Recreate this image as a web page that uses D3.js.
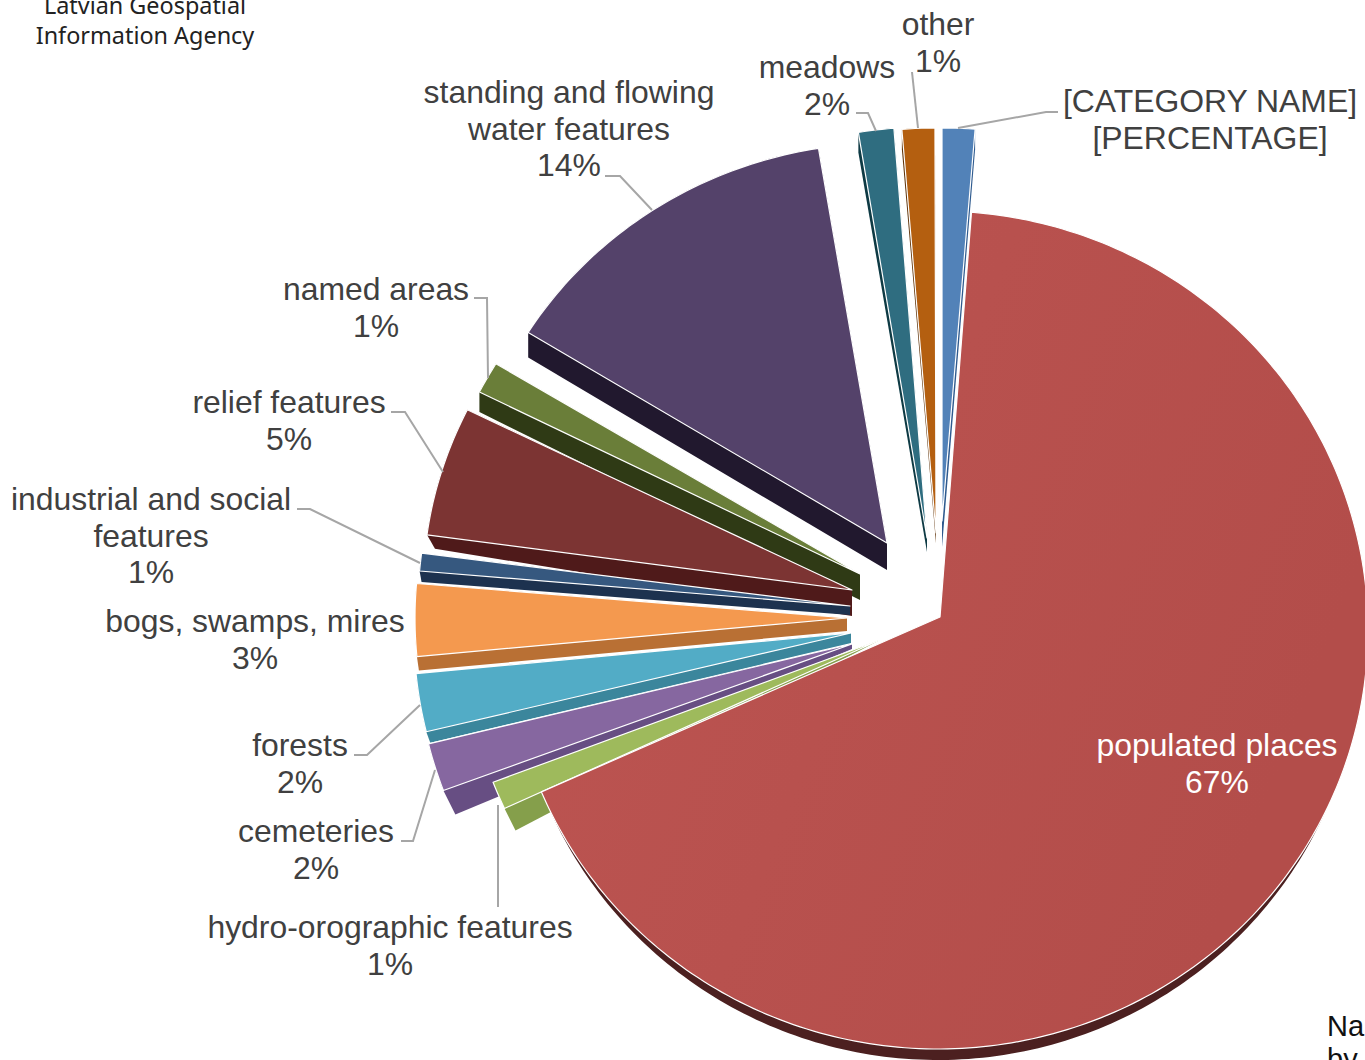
<!DOCTYPE html>
<html>
<head>
<meta charset="utf-8">
<script src="https://cdn.jsdelivr.net/npm/d3@7"></script>
<style>
  html, body { margin: 0; background: #fff; }
  svg { display: block; overflow: hidden; }
  .label text { font-family: "Liberation Sans", Arial, sans-serif; }
  .logo text { font-family: "Noto Sans", sans-serif; }
  .note text { font-family: "Liberation Sans", Arial, sans-serif; }
</style>
</head>
<body>
<div id="chart"></div>
<script>
const categories = ["[CATEGORY NAME]", "populated places", "hydro-orographic features", "cemeteries", "forests",
  "bogs, swamps, mires", "industrial and social\nfeatures", "relief features", "named areas",
  "standing and flowing\nwater features", "meadows", "other"];
const shares = [1.25, 67.93, 1.14, 1.86, 2.25, 2.86, 0.7, 5.17, 1.28, 13.68, 1.35, 1.25];
const percentLabels = ["[PERCENTAGE]", "67%", "1%", "2%", "2%", "3%", "1%", "5%", "1%", "14%", "2%", "1%"];

const faceColors = ["#5282b8", "url(#mainFace)", "#9eba5c", "#8667a0", "#52acc6", "#f4994f", "#36587f", "#7c3433", "#6a7e39", "#54426a", "#2f6d80", "#b45f10"];
const wallColors = ["#2e5a8e", "#4c2020", "#859f4b", "#674e83", "#3b869c", "#b97034", "#1d324f", "#4f1a1a", "#2f3a15", "#21182e", "#0e3a44", "#5f3208"];

// hand fitted 3D look: where each exploded slice ends up on the page
const geometry = [
  { apex: [942, 521], rx: 425, ry: 393, turn: 0, apexDrop: 26, rimDrop: 20, rimSlide: 0 },
  { apex: [940, 617], center: [938, 630], rx: 430, ry: 419, turn: 0 },
  { apex: [880, 640], rx: 414, ry: 400, turn: -2.17, apexDrop: 0, rimDrop: 22, rimSlide: 11 },
  { apex: [852, 644], rx: 436, ry: 420, turn: -1.75, apexDrop: 5, rimDrop: 24, rimSlide: 12 },
  { apex: [851, 633], rx: 437, ry: 420, turn: -1.59, apexDrop: 10, rimDrop: 11, rimSlide: 4 },
  { apex: [847, 618], rx: 432, ry: 410, turn: -1.43, apexDrop: 13, rimDrop: 14, rimSlide: 2 },
  { apex: [850, 606], rx: 432, ry: 410, turn: -1.36, apexDrop: 9, rimDrop: 11, rimSlide: 2 },
  { apex: [852, 590], rx: 429, ry: 407, turn: -0.96, apexDrop: 26, rimDrop: 14, rimSlide: 8 },
  { apex: [860, 574], rx: 426, ry: 405, turn: -0.54, apexDrop: 26, rimDrop: 20, rimSlide: 0 },
  { apex: [887, 543], rx: 422, ry: 400, turn: -0.05, apexDrop: 27, rimDrop: 25, rimSlide: 0 },
  { apex: [927, 538], rx: 425, ry: 411, turn: 0, apexDrop: 14, rimDrop: 20, rimSlide: 0 },
  { apex: [936, 533], rx: 425, ry: 405, turn: -0.14, apexDrop: 10, rimDrop: 20, rimSlide: 0 }
];
// the big slice's side wall is a second ellipse peeking out below the face
const mainWall = { apex: [940, 630], center: [938, 641.5], rx: 424, ry: 418.5, turn: 0 };

// label centre and first baseline, then the leader line
const labelSpots = [
  { x: 1210, y: 112, leader: [[1058, 112], [1046, 112], [958, 128]] },
  { x: 1217, y: 756, fill: "#fff" },
  { x: 390, y: 938, leader: [[498, 907], [498, 805]] },
  { x: 316, y: 842, leader: [[401, 841], [413, 841], [435, 770]] },
  { x: 300, y: 756, leader: [[354, 755], [367, 755], [420, 705]] },
  { x: 255, y: 632 },
  { x: 151, y: 510, leader: [[297, 509], [310, 509], [420, 563]] },
  { x: 289, y: 413, leader: [[391, 412], [405, 412], [443, 472]] },
  { x: 376, y: 300, leader: [[474, 298], [487, 298], [488, 378]] },
  { x: 569, y: 103, leader: [[605, 176], [620, 176], [652, 210]] },
  { x: 827, y: 78, leader: [[856, 113], [868, 113], [876, 131]] },
  { x: 938, y: 35, leader: [[912, 72], [918, 128]] }
];

const width = 1365,
  height = 1060,
  lineHeight = 36.7;

const svg = d3.select("#chart")
  .append("svg")
  .attr("width", width)
  .attr("height", height)
  .attr("viewBox", [0, 0, width, height]);

const grad = svg.append("defs").append("linearGradient")
  .attr("id", "mainFace")
  .attr("x1", 0).attr("x2", 1).attr("y1", 0).attr("y2", 0.4);
grad.append("stop").attr("offset", 0).attr("stop-color", "#bd5552");
grad.append("stop").attr("offset", 1).attr("stop-color", "#b34d4a");

const pie = d3.pie().sort(null).value(d => d);
const arcs = pie(shares);

function rimPoints(arc, geo) {
  const c = geo.center || geo.apex;
  const turn = geo.turn * Math.PI / 180;
  return d3.range(0, 1.0001, 1 / Math.max(2, Math.ceil((arc.endAngle - arc.startAngle) * 60))).map(t => {
    const a = arc.startAngle + t * (arc.endAngle - arc.startAngle) + turn;
    return [c[0] + geo.rx * Math.sin(a), c[1] - geo.ry * Math.cos(a)];
  });
}

const line = d3.line();

function wallPoints(arc, geo) {
  const rim = rimPoints(arc, geo);
  const dropped = rim.map(p => [p[0] + geo.rimSlide, p[1] + geo.rimDrop]);
  const apex = [geo.apex[0], geo.apex[1] + geo.apexDrop];
  return d3.polygonHull([geo.apex, apex, ...rim, ...dropped]);
}

const order = [11, 10, 9, 8, 7, 6, 5, 4, 3, 2, 0, 1];

const slices = svg.append("g")
  .selectAll("g")
  .data(order)
  .join("g");

slices.append("path")
  .attr("fill", i => wallColors[i])
  .attr("d", i => i === 1
    ? line([mainWall.apex, ...rimPoints(arcs[i], mainWall)]) + "Z"
    : line(wallPoints(arcs[i], geometry[i])) + "Z");

slices.append("path")
  .attr("fill", i => faceColors[i])
  .attr("stroke", "#fff")
  .attr("stroke-width", 1.2)
  .attr("stroke-linejoin", "round")
  .attr("d", i => line([geometry[i].apex, ...rimPoints(arcs[i], geometry[i])]) + "Z");

svg.append("g")
  .selectAll("path")
  .data(labelSpots.filter(d => d.leader))
  .join("path")
  .attr("fill", "none")
  .attr("stroke", "#a6a6a6")
  .attr("stroke-width", 2)
  .attr("d", d => line(d.leader));

const labels = svg.append("g")
  .attr("class", "label")
  .attr("font-size", 31.9)
  .attr("text-anchor", "middle")
  .selectAll("text")
  .data(categories.map((c, i) => ({ lines: [...c.split("\n"), percentLabels[i]], spot: labelSpots[i] })))
  .join("text")
  .attr("fill", d => d.spot.fill || "#404040");

labels.selectAll("tspan")
  .data(d => d.lines.map((t, i) => ({ t, x: d.spot.x, y: d.spot.y + i * lineHeight })))
  .join("tspan")
  .attr("x", d => d.x)
  .attr("y", d => d.y)
  .text(d => d.t);

// logo text top left, cut by the page like in the source
svg.append("g")
  .attr("class", "logo")
  .attr("text-anchor", "middle")
  .attr("font-size", 23.4)
  .attr("fill", "#222")
  .selectAll("text")
  .data(["Latvian Geospatial", "Information Agency"])
  .join("text")
  .attr("x", 145)
  .attr("y", (d, i) => 14 + i * 30)
  .text(d => d);

svg.append("g")
  .attr("class", "note")
  .attr("font-size", 29)
  .attr("fill", "#111")
  .selectAll("text")
  .data(["Na", "by"])
  .join("text")
  .attr("x", 1327)
  .attr("y", (d, i) => 1036 + i * 33)
  .text(d => d);
</script>
</body>
</html>
